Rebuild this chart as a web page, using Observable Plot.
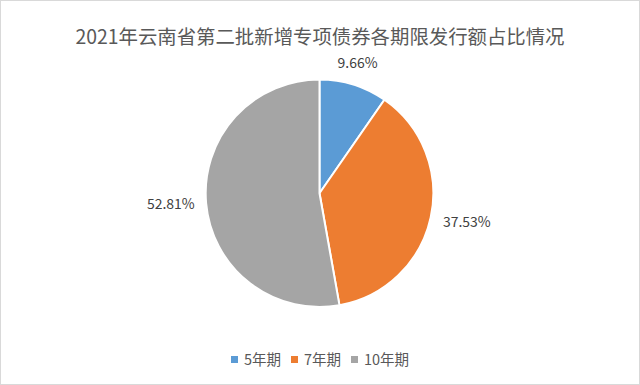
<!DOCTYPE html>
<html><head><meta charset="utf-8">
<script src="https://cdn.jsdelivr.net/npm/d3@7"></script>
<script src="https://cdn.jsdelivr.net/npm/@observablehq/plot@0.6"></script>
<style>
html,body{margin:0;padding:0;background:#fff;}
#wrap{position:relative;width:640px;height:385px;box-sizing:border-box;border:1px solid #d9d9d9;overflow:hidden;font-family:"Noto Sans CJK SC","Noto Sans",sans-serif;}
#title{position:absolute;left:0;top:21px;width:100%;text-align:center;font-size:19.4px;color:#595959;line-height:28px;}
#chart{position:absolute;left:-1px;top:39px;}
#legend{position:absolute;left:0;top:347px;width:100%;display:flex;justify-content:center;gap:10px;font-size:14.5px;color:#595959;line-height:22px;}
#legend span.sw{display:inline-block;width:7px;height:7px;margin-right:6px;vertical-align:middle;position:relative;top:-2px;}
</style></head>
<body>
<div id="wrap">
<div id="chart"></div>
<div id="title">2021年云南省第二批新增专项债券各期限发行额占比情况</div>
<div id="legend"></div>
</div>
<script>
const categories = ["5年期", "7年期", "10年期"];
const shares = [9.66, 37.53, 52.81];
const labels = ["9.66%", "37.53%", "52.81%"];
const colors = ["#5B9BD5", "#ED7D31", "#A5A5A5"];

const R = 114;
const data = categories.map((c, i) => ({cat: c, value: shares[i], label: labels[i]}));
const arcs = d3.pie().sort(null).value(d => d.value)(data);
arcs.forEach(a => {
  a.mid = (a.startAngle + a.endAngle) / 2;
  a.lx = (R + 12) * Math.sin(a.mid);
  a.ly = (R + 12) * Math.cos(a.mid);
  const s = Math.sin(a.mid);
  a.side = Math.abs(s) < 0.5 ? "middle" : (s > 0 ? "start" : "end");
});

function pieRender(index, scales, values, dimensions, context) {
  const {x, y} = scales;
  const cx = x(0), cy = y(0);
  const rr = x(R) - x(0);
  const arcGen = d3.arc().innerRadius(0).outerRadius(rr);
  const g = d3.create("svg:g");
  g.selectAll("path").data(arcs).join("path")
    .attr("transform", `translate(${cx},${cy})`)
    .attr("d", arcGen)
    .attr("fill", (d, i) => colors[i])
    .attr("stroke", "#fff")
    .attr("stroke-width", 2)
    .attr("stroke-linejoin", "round");
  return g.node();
}

const textOpts = (side, extra) => Plot.text(arcs.filter(a => a.side === side), {
  x: "lx", y: "ly",
  text: d => d.data.label,
  textAnchor: side,
  fontSize: 14,
  fill: "#404040",
  ...extra
});

const chart = Plot.plot({
  width: 640,
  height: 295,
  margin: 0,
  x: {domain: [-320, 320], axis: null},
  y: {domain: [-141.5, 153.5], axis: null},
  style: {background: "transparent", fontFamily: "'Noto Sans CJK SC','Noto Sans',sans-serif"},
  marks: [
    Plot.dot(arcs, {x: 0, y: 0, r: 0, render: pieRender}),
    textOpts("middle", {dy: -10}),
    textOpts("start", {dy: 2}),
    textOpts("end", {dy: 0})
  ]
});
document.getElementById("chart").appendChild(chart);

const leg = document.getElementById("legend");
categories.forEach((c, i) => {
  const item = document.createElement("div");
  item.innerHTML = `<span class="sw" style="background:${colors[i]}"></span>${c}`;
  leg.appendChild(item);
});
</script>
</body></html>
